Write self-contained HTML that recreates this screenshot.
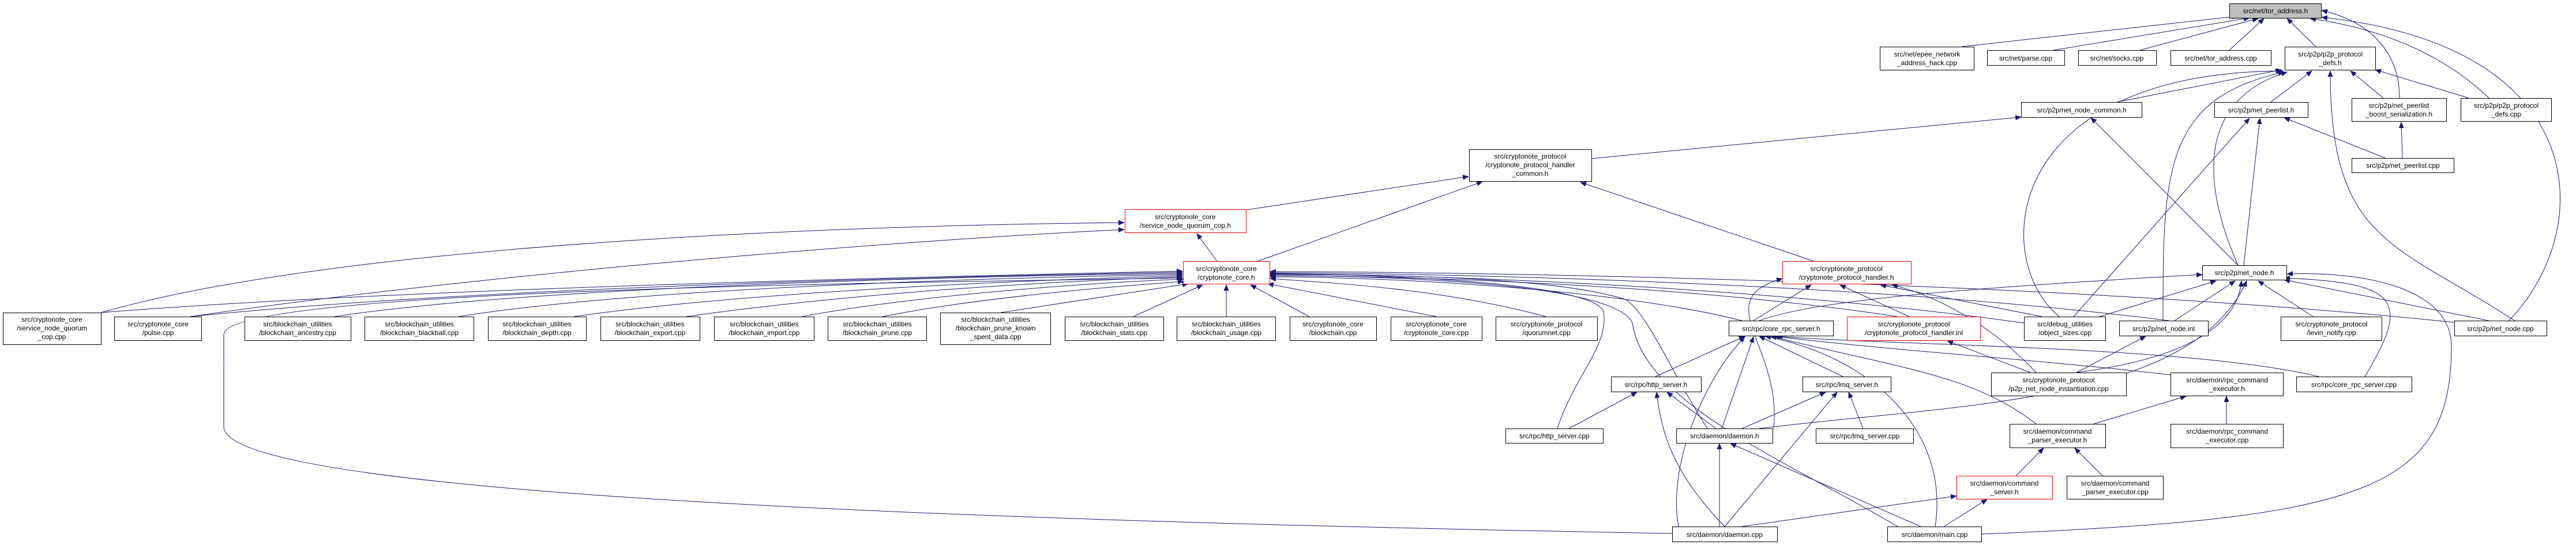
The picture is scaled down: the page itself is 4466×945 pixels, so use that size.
<!DOCTYPE html>
<html><head><meta charset="utf-8"><style>
html,body{margin:0;padding:0;background:#fff;}
svg{display:block;}
text{font-family:"Liberation Sans",sans-serif;font-size:12px;fill:#000;}
</style></head><body>
<svg width="4466" height="945" viewBox="0 0 4466 945" xmlns="http://www.w3.org/2000/svg">
<defs><marker id="a" markerWidth="11" markerHeight="9" refX="10" refY="4.5" orient="auto" markerUnits="userSpaceOnUse"><path d="M0,0 L11,4.5 L0,9 Z" fill="#191970"/></marker></defs>
<g fill="none" stroke="#191970" stroke-width="1" marker-end="url(#a)">
<path d="M3400,81 L3880,28"/><path d="M3560,87 L3900,31"/><path d="M3710,87 L3915,32"/><path d="M3865,87 L3925,32"/><path d="M4015,81 L3965,32"/>
<path d="M4160,170 C4160,100 4120,40 4025,18"/><path d="M4315,170 Q4200,60 4005,32"/><path d="M4350,556 C4500,400 4500,80 4025,30"/>
<path d="M3670,177 L3955,121"/><path d="M3937,177 L4008,123"/><path d="M4132,170 L4075,123"/><path d="M4280,170 L4118,121"/>
<path d="M3570,549 C3450,450 3470,125 3958,123"/><path d="M3750,556 C3750,300 3750,170 3960,125"/><path d="M3880,460 C3810,300 3820,170 3965,125"/><path d="M4360,556 C4150,420 4040,420 4040,123"/>
<path d="M2759,275 L3504,203"/><path d="M3880,460 L3625,204"/>
<path d="M4135,274 L3960,204"/><path d="M3595,549 L3900,205"/><path d="M3890,460 L3918,205"/><path d="M4165,274 L4163,212"/>
<path d="M2160,364 L2546,306"/><path d="M2180,453 L2570,315"/><path d="M3145,453 L2740,316"/>
<path d="M2110,453 L2075,405"/><path d="M175,542 C600,420 1500,390 1949,386"/><path d="M330,549 C800,480 1500,420 1949,398"/>
<path d="M175,542 C700,500 1600,480 2050,470"/><path d="M330,549 C800,500 1600,480 2050,472"/><path d="M580,549 C900,500 1600,480 2050,474"/>
<path d="M795,549 C1100,500 1700,482 2050,476"/><path d="M995,549 C1300,505 1800,485 2050,478"/><path d="M1190,549 C1500,505 1850,487 2050,480"/>
<path d="M1390,549 C1600,510 1900,490 2052,484"/><path d="M1530,549 C1700,515 1950,495 2052,488"/><path d="M1735,542 L2060,492"/>
<path d="M1965,549 L2085,494"/><path d="M2126,549 L2126,494"/><path d="M2270,549 L2168,494"/><path d="M2490,549 L2198,492"/><path d="M2680,549 C2500,500 2300,490 2202,483"/>
<path d="M3020,556 C2800,500 2400,480 2202,480"/><path d="M3290,549 C2900,490 2400,478 2202,478"/><path d="M3509,560 C3000,490 2400,475 2202,475"/>
<path d="M3760,556 C3200,485 2400,473 2202,473"/><path d="M4265,560 C3500,480 2400,471 2202,471"/>
<path d="M2700,743 C2730,650 2790,600 2780,540 C2760,490 2400,476 2202,474"/><path d="M2960,743 C2900,650 2860,550 2820,520 C2700,480 2400,476 2202,476"/>
<path d="M3290,913 C3100,800 2850,700 2830,560 C2800,490 2400,478 2202,478"/>
<path d="M2899,925 C1500,900 390,850 388,740 L388,580 C388,500 1600,490 2050,482"/>
<path d="M3040,556 L3140,494"/><path d="M3310,549 L3190,494"/><path d="M3540,549 L3260,494"/><path d="M3530,646 C3450,560 3350,510 3280,494"/><path d="M3075,743 C3090,600 2960,520 3090,483"/>
<path d="M3050,556 C3150,520 3400,500 3818,476"/><path d="M3640,549 L3842,487"/><path d="M3770,556 L3875,487"/><path d="M4010,549 L3915,487"/><path d="M4315,556 L3960,485"/>
<path d="M3600,646 C3800,620 3880,560 3886,487"/><path d="M3050,743 C3400,700 3800,700 3895,487"/><path d="M4100,653 C4180,520 4160,490 3960,482"/>
<path d="M3435,926 C4100,900 4250,850 4250,600 C4250,500 4100,470 3965,475"/>
<path d="M2870,653 L3025,583"/><path d="M3195,653 L3050,583"/><path d="M2985,743 L3040,584"/><path d="M3355,913 C3380,750 3250,620 3060,583"/>
<path d="M3530,735 C3420,650 3300,640 3070,583"/><path d="M3763,650 C3500,620 3300,610 3075,583"/><path d="M4020,653 C3800,600 3300,600 3080,583"/><path d="M2910,913 C2890,800 2960,650 3025,584"/>
<path d="M3520,646 L3376,591"/><path d="M3600,646 L3720,583"/>
<path d="M2720,743 L2838,680"/><path d="M2975,743 L2890,680"/><path d="M2990,913 C2900,820 2880,750 2872,680"/>
<path d="M3020,743 L3165,680"/><path d="M3230,743 L3205,680"/><path d="M2990,913 L3185,680"/>
<path d="M3630,735 L3790,687"/><path d="M3860,735 L3860,687"/><path d="M3495,825 L3543,777"/><path d="M3645,825 L3597,777"/>
<path d="M3020,913 L3392,860"/><path d="M3370,913 L3445,866"/><path d="M2981,913 L2981,769"/><path d="M3330,913 L3000,769"/>
</g>
<g stroke-width="1" text-anchor="middle">
<rect x="3865.5" y="6.5" width="159" height="25" fill="#bfbfbf" stroke="#000"/><text x="3945" y="23">src/net/tor_address.h</text>
<rect x="3259.5" y="81.5" width="163" height="40" fill="#fff" stroke="#000"/><text x="3341" y="98">src/net/epee_network</text><text x="3341" y="113">_address_hack.cpp</text>
<rect x="3445.5" y="87.5" width="134" height="26" fill="#fff" stroke="#000"/><text x="3512" y="105">src/net/parse.cpp</text>
<rect x="3603.5" y="87.5" width="135" height="26" fill="#fff" stroke="#000"/><text x="3670" y="105">src/net/socks.cpp</text>
<rect x="3763.5" y="87.5" width="174" height="26" fill="#fff" stroke="#000"/><text x="3850" y="105">src/net/tor_address.cpp</text>
<rect x="3961.5" y="81.5" width="157" height="40" fill="#fff" stroke="#000"/><text x="4040" y="98">src/p2p/p2p_protocol</text><text x="4040" y="113">_defs.h</text>
<rect x="3504.5" y="177.5" width="209" height="26" fill="#fff" stroke="#000"/><text x="3609" y="195">src/p2p/net_node_common.h</text>
<rect x="3839.5" y="177.5" width="162" height="26" fill="#fff" stroke="#000"/><text x="3920" y="195">src/p2p/net_peerlist.h</text>
<rect x="4077.5" y="170.5" width="164" height="40" fill="#fff" stroke="#000"/><text x="4159" y="187">src/p2p/net_peerlist</text><text x="4159" y="202">_boost_serialization.h</text>
<rect x="4266.5" y="170.5" width="157" height="40" fill="#fff" stroke="#000"/><text x="4345" y="187">src/p2p/p2p_protocol</text><text x="4345" y="202">_defs.cpp</text>
<rect x="4077.5" y="274.5" width="177" height="25" fill="#fff" stroke="#000"/><text x="4166" y="291">src/p2p/net_peerlist.cpp</text>
<rect x="2547.5" y="259.5" width="212" height="55" fill="#fff" stroke="#000"/><text x="2653" y="275">src/cryptonote_protocol</text><text x="2653" y="290">/cryptonote_protocol_handler</text><text x="2653" y="305">_common.h</text>
<rect x="1950.5" y="363.5" width="210" height="40" fill="#fff" stroke="#f00"/><text x="2055" y="380">src/cryptonote_core</text><text x="2055" y="395">/service_node_quorum_cop.h</text>
<rect x="2051.5" y="453.5" width="150" height="39" fill="#fff" stroke="#f00"/><text x="2126" y="470">src/cryptonote_core</text><text x="2126" y="485">/cryptonote_core.h</text>
<rect x="3090.5" y="453.5" width="223" height="39" fill="#fff" stroke="#f00"/><text x="3201" y="470">src/cryptonote_protocol</text><text x="3201" y="485">/cryptonote_protocol_handler.h</text>
<rect x="3818.5" y="460.5" width="146" height="25" fill="#fff" stroke="#000"/><text x="3891" y="477">src/p2p/net_node.h</text>
<rect x="5.5" y="542.5" width="170" height="55" fill="#fff" stroke="#000"/><text x="90" y="558">src/cryptonote_core</text><text x="90" y="573">/service_node_quorum</text><text x="90" y="588">_cop.cpp</text>
<rect x="198.5" y="549.5" width="151" height="41" fill="#fff" stroke="#000"/><text x="274" y="566">src/cryptonote_core</text><text x="274" y="581">/pulse.cpp</text>
<rect x="424.5" y="549.5" width="184" height="41" fill="#fff" stroke="#000"/><text x="516" y="566">src/blockchain_utilities</text><text x="516" y="581">/blockchain_ancestry.cpp</text>
<rect x="632.5" y="549.5" width="189" height="41" fill="#fff" stroke="#000"/><text x="727" y="566">src/blockchain_utilities</text><text x="727" y="581">/blockchain_blackball.cpp</text>
<rect x="846.5" y="549.5" width="170" height="41" fill="#fff" stroke="#000"/><text x="931" y="566">src/blockchain_utilities</text><text x="931" y="581">/blockchain_depth.cpp</text>
<rect x="1041.5" y="549.5" width="172" height="41" fill="#fff" stroke="#000"/><text x="1127" y="566">src/blockchain_utilities</text><text x="1127" y="581">/blockchain_export.cpp</text>
<rect x="1238.5" y="549.5" width="173" height="41" fill="#fff" stroke="#000"/><text x="1325" y="566">src/blockchain_utilities</text><text x="1325" y="581">/blockchain_import.cpp</text>
<rect x="1435.5" y="549.5" width="171" height="41" fill="#fff" stroke="#000"/><text x="1521" y="566">src/blockchain_utilities</text><text x="1521" y="581">/blockchain_prune.cpp</text>
<rect x="1630.5" y="542.5" width="191" height="55" fill="#fff" stroke="#000"/><text x="1726" y="558">src/blockchain_utilities</text><text x="1726" y="573">/blockchain_prune_known</text><text x="1726" y="588">_spent_data.cpp</text>
<rect x="1846.5" y="549.5" width="171" height="41" fill="#fff" stroke="#000"/><text x="1932" y="566">src/blockchain_utilities</text><text x="1932" y="581">/blockchain_stats.cpp</text>
<rect x="2040.5" y="549.5" width="171" height="41" fill="#fff" stroke="#000"/><text x="2126" y="566">src/blockchain_utilities</text><text x="2126" y="581">/blockchain_usage.cpp</text>
<rect x="2236.5" y="549.5" width="150" height="41" fill="#fff" stroke="#000"/><text x="2311" y="566">src/cryptonote_core</text><text x="2311" y="581">/blockchain.cpp</text>
<rect x="2411.5" y="549.5" width="158" height="41" fill="#fff" stroke="#000"/><text x="2490" y="566">src/cryptonote_core</text><text x="2490" y="581">/cryptonote_core.cpp</text>
<rect x="2593.5" y="549.5" width="176" height="41" fill="#fff" stroke="#000"/><text x="2681" y="566">src/cryptonote_protocol</text><text x="2681" y="581">/quorumnet.cpp</text>
<rect x="2997.5" y="556.5" width="181" height="26" fill="#fff" stroke="#000"/><text x="3088" y="574">src/rpc/core_rpc_server.h</text>
<rect x="3202.5" y="549.5" width="231" height="41" fill="#fff" stroke="#f00"/><text x="3318" y="566">src/cryptonote_protocol</text><text x="3318" y="581">/cryptonote_protocol_handler.inl</text>
<rect x="3509.5" y="549.5" width="141" height="41" fill="#fff" stroke="#000"/><text x="3580" y="566">src/debug_utilities</text><text x="3580" y="581">/object_sizes.cpp</text>
<rect x="3674.5" y="556.5" width="154" height="26" fill="#fff" stroke="#000"/><text x="3751" y="574">src/p2p/net_node.inl</text>
<rect x="3954.5" y="549.5" width="175" height="41" fill="#fff" stroke="#000"/><text x="4042" y="566">src/cryptonote_protocol</text><text x="4042" y="581">/levin_notify.cpp</text>
<rect x="4255.5" y="556.5" width="160" height="26" fill="#fff" stroke="#000"/><text x="4335" y="574">src/p2p/net_node.cpp</text>
<rect x="2793.5" y="653.5" width="156" height="26" fill="#fff" stroke="#000"/><text x="2871" y="671">src/rpc/http_server.h</text>
<rect x="3125.5" y="653.5" width="153" height="26" fill="#fff" stroke="#000"/><text x="3202" y="671">src/rpc/lmq_server.h</text>
<rect x="3452.5" y="646.5" width="234" height="40" fill="#fff" stroke="#000"/><text x="3569" y="663">src/cryptonote_protocol</text><text x="3569" y="678">/p2p_net_node_instantiation.cpp</text>
<rect x="3763.5" y="646.5" width="195" height="40" fill="#fff" stroke="#000"/><text x="3861" y="663">src/daemon/rpc_command</text><text x="3861" y="678">_executor.h</text>
<rect x="3981.5" y="653.5" width="200" height="26" fill="#fff" stroke="#000"/><text x="4081" y="671">src/rpc/core_rpc_server.cpp</text>
<rect x="2610.5" y="743.5" width="169" height="25" fill="#fff" stroke="#000"/><text x="2695" y="760">src/rpc/http_server.cpp</text>
<rect x="2906.5" y="743.5" width="167" height="25" fill="#fff" stroke="#000"/><text x="2990" y="760">src/daemon/daemon.h</text>
<rect x="3148.5" y="743.5" width="169" height="25" fill="#fff" stroke="#000"/><text x="3233" y="760">src/rpc/lmq_server.cpp</text>
<rect x="3484.5" y="735.5" width="166" height="41" fill="#fff" stroke="#000"/><text x="3567" y="752">src/daemon/command</text><text x="3567" y="767">_parser_executor.h</text>
<rect x="3763.5" y="735.5" width="195" height="41" fill="#fff" stroke="#000"/><text x="3861" y="752">src/daemon/rpc_command</text><text x="3861" y="767">_executor.cpp</text>
<rect x="3392.5" y="825.5" width="166" height="40" fill="#fff" stroke="#f00"/><text x="3475" y="842">src/daemon/command</text><text x="3475" y="857">_server.h</text>
<rect x="3583.5" y="825.5" width="167" height="40" fill="#fff" stroke="#000"/><text x="3667" y="842">src/daemon/command</text><text x="3667" y="857">_parser_executor.cpp</text>
<rect x="2899.5" y="913.5" width="182" height="26" fill="#fff" stroke="#000"/><text x="2990" y="931">src/daemon/daemon.cpp</text>
<rect x="3272.5" y="913.5" width="163" height="26" fill="#fff" stroke="#000"/><text x="3354" y="931">src/daemon/main.cpp</text>
</g>
</svg>
</body></html>
